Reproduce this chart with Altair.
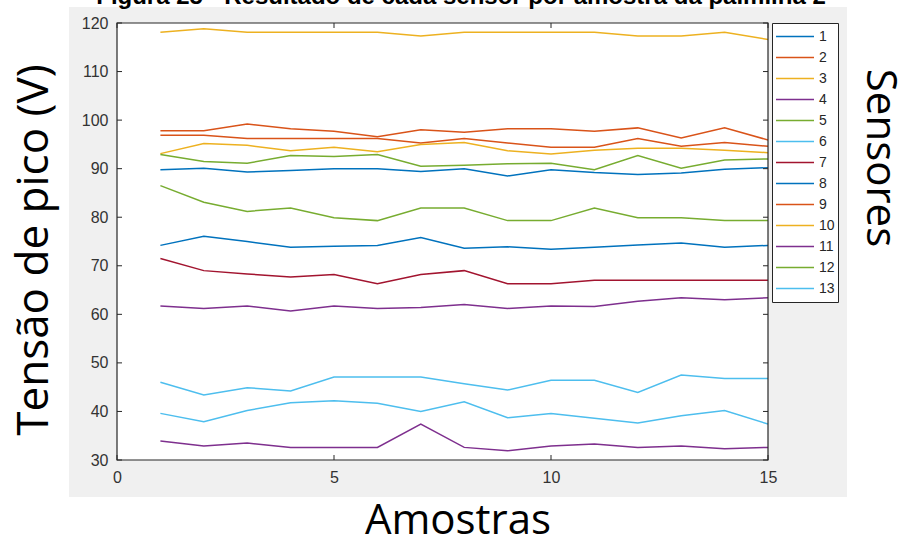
import altair as alt
import pandas as pd

# Peak voltage of each insole sensor, per sample (samples 1..15)
amostras = list(range(1, 16))
sensores = [str(i) for i in range(1, 14)]

s1 = [89.8, 90.1, 89.3, 89.6, 90.0, 90.0, 89.4, 90.0, 88.5, 89.8, 89.2, 88.8, 89.1, 89.9, 90.2]
s2 = [97.8, 97.8, 99.2, 98.2, 97.7, 96.6, 98.0, 97.5, 98.2, 98.2, 97.7, 98.4, 96.3, 98.4, 95.9]
s3 = [118.1, 118.8, 118.1, 118.1, 118.1, 118.1, 117.3, 118.1, 118.1, 118.1, 118.1, 117.3, 117.3, 118.1, 116.6]
s4 = [33.9, 32.9, 33.5, 32.6, 32.6, 32.6, 37.4, 32.6, 31.9, 32.9, 33.3, 32.6, 32.9, 32.3, 32.6]
s5 = [86.5, 83.1, 81.2, 81.9, 79.9, 79.3, 81.9, 81.9, 79.3, 79.3, 81.9, 79.9, 79.9, 79.3, 79.3]
s6 = [46.0, 43.4, 44.9, 44.2, 47.1, 47.1, 47.1, 45.7, 44.4, 46.4, 46.4, 43.9, 47.5, 46.8, 46.8]
s7 = [71.5, 69.0, 68.3, 67.7, 68.2, 66.3, 68.2, 69.0, 66.3, 66.3, 67.0, 67.0, 67.0, 67.0, 67.0]
s8 = [74.2, 76.1, 75.0, 73.8, 74.0, 74.2, 75.8, 73.6, 73.9, 73.4, 73.8, 74.3, 74.7, 73.8, 74.2]
s9 = [96.9, 96.9, 96.2, 96.2, 96.2, 96.2, 95.3, 96.2, 95.3, 94.4, 94.4, 96.2, 94.6, 95.4, 94.6]
s10 = [93.1, 95.2, 94.8, 93.7, 94.4, 93.5, 95.0, 95.4, 93.7, 93.0, 93.8, 94.2, 94.2, 93.8, 93.3]
s11 = [61.7, 61.2, 61.7, 60.7, 61.7, 61.2, 61.4, 62.0, 61.2, 61.7, 61.6, 62.7, 63.4, 63.0, 63.4]
s12 = [92.9, 91.5, 91.1, 92.7, 92.5, 92.9, 90.5, 90.7, 91.0, 91.1, 89.8, 92.7, 90.1, 91.8, 92.0]
s13 = [39.6, 37.9, 40.2, 41.8, 42.2, 41.7, 40.0, 42.0, 38.7, 39.6, 38.6, 37.6, 39.1, 40.2, 37.4]

series = [s1, s2, s3, s4, s5, s6, s7, s8, s9, s10, s11, s12, s13]

x_ticks = [0, 5, 10, 15]
y_ticks = [30, 40, 50, 60, 70, 80, 90, 100, 110, 120]

# MATLAB default line colour order, cycling after seven lines
palette = ["#0072BD", "#D95319", "#EDB120", "#7E2F8E", "#77AC30", "#4DBEEE", "#A2142F"]
cores = [palette[i % 7] for i in range(13)]

rows = []
for k, vals in enumerate(series):
    for a, v in zip(amostras, vals):
        rows.append({"amostra": a, "tensao": v, "sensor": sensores[k], "ordem": k})
df = pd.DataFrame(rows)

W, H = 651, 437
AXIS = "#262626"
xs = alt.Scale(domain=[0, 15], nice=False, zero=False)
ys = alt.Scale(domain=[30, 120], nice=False, zero=False)

# one shared axis definition per channel, reused by every layer on that scale
x_axis = alt.Axis(values=x_ticks, title=None, ticks=False, domain=False, grid=False,
                  labelPadding=9, labelFontSize=16, labelColor="#333333",
                  labelFont="Liberation Sans", labelFlush=False, zindex=2)
y_axis = alt.Axis(values=y_ticks, title=None, ticks=False, domain=False, grid=False,
                  labelPadding=9, labelFontSize=16, labelColor="#333333",
                  labelFont="Liberation Sans", labelFlush=False, zindex=2)

one = pd.DataFrame({"k": [0]})
xt = pd.DataFrame({"amostra": x_ticks})
yt = pd.DataFrame({"tensao": y_ticks})

# figure background (light grey) and white axes area
fundo = alt.Chart(one).mark_rect(color="#f0f0f0").encode(
    x=alt.value(-48), x2=alt.value(730), y=alt.value(-16), y2=alt.value(474)
)
area = alt.Chart(one).mark_rect(color="white").encode(
    x=alt.value(0), x2=alt.value(W), y=alt.value(0), y2=alt.value(H)
)

linhas = alt.Chart(df).mark_line(strokeWidth=1.5, clip=True).encode(
    x=alt.X("amostra:Q", scale=xs, axis=x_axis),
    y=alt.Y("tensao:Q", scale=ys, axis=y_axis),
    color=alt.Color("sensor:N", scale=alt.Scale(domain=sensores, range=cores),
                    legend=alt.Legend(title=None, orient="none", legendX=655, legendY=0,
                                      direction="vertical", fillColor="white",
                                      strokeColor=AXIS, padding=3,
                                      symbolType="stroke", symbolSize=1444,
                                      symbolStrokeWidth=1.5, clipHeight=21,
                                      labelFontSize=14, labelColor="#262626",
                                      labelFont="Liberation Sans", labelOffset=4,
                                      rowPadding=0)),
    detail="sensor:N",
    order="ordem:Q",
)

# inward tick marks on all four sides
tl = 5
tick_b = alt.Chart(xt).mark_rule(color=AXIS, strokeWidth=1).encode(
    x=alt.X("amostra:Q", scale=xs, axis=x_axis), y=alt.value(H), y2=alt.value(H - tl))
tick_t = alt.Chart(xt).mark_rule(color=AXIS, strokeWidth=1).encode(
    x=alt.X("amostra:Q", scale=xs, axis=x_axis), y=alt.value(0), y2=alt.value(tl))
tick_l = alt.Chart(yt).mark_rule(color=AXIS, strokeWidth=1).encode(
    y=alt.Y("tensao:Q", scale=ys, axis=y_axis), x=alt.value(0), x2=alt.value(tl))
tick_r = alt.Chart(yt).mark_rule(color=AXIS, strokeWidth=1).encode(
    y=alt.Y("tensao:Q", scale=ys, axis=y_axis), x=alt.value(W), x2=alt.value(W - tl))

moldura = alt.Chart(one).mark_rect(fillOpacity=0, stroke=AXIS, strokeWidth=1.2).encode(
    x=alt.value(0), x2=alt.value(W), y=alt.value(0), y2=alt.value(H)
)

titulo = alt.Chart(one).mark_text(
    text="Figura 25 - Resultado de cada sensor por amostra da palmilha 2",
    font="Liberation Sans", fontWeight="bold", fontSize=24, color="black",
    align="center", baseline="alphabetic"
).encode(x=alt.value(344), y=alt.value(-19.5))

titulo_x = alt.Chart(one).mark_text(
    text="Amostras", font="Open Sans", fontSize=42, color="black",
    align="center", baseline="alphabetic"
).encode(x=alt.value(341), y=alt.value(511))

titulo_y = alt.Chart(one).mark_text(
    text="Tensão de pico (V)", font="Open Sans", fontSize=44, color="black",
    align="center", baseline="middle", angle=270
).encode(x=alt.value(-82), y=alt.value(227))

titulo_leg = alt.Chart(one).mark_text(
    text="Sensores", font="Open Sans", fontSize=42, color="black",
    align="center", baseline="middle", angle=90
).encode(x=alt.value(763), y=alt.value(135))

chart = alt.layer(
    fundo, area, linhas, tick_b, tick_t, tick_l, tick_r, moldura,
    titulo, titulo_x, titulo_y, titulo_leg
).properties(
    width=W, height=H,
    autosize=alt.AutoSizeParams(type="none"),
    padding={"left": 117, "top": 23, "right": 136, "bottom": 77},
    background="white",
).configure_view(stroke=None)

chart.save("out.html", embed_options={"renderer": "svg", "actions": False})
